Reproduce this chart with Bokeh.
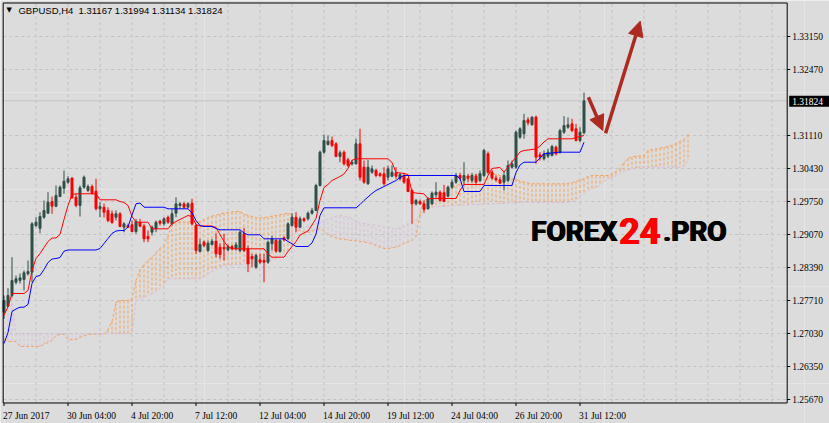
from bokeh.plotting import figure
from bokeh.models import Range1d, Label, Arrow, NormalHead, ColumnDataSource
from bokeh.embed import file_html
from bokeh.resources import INLINE

# ---------------- data (GBPUSD H4, bar index 0 = 27 Jun 2017) ----------------
symbol_text = "GBPUSD,H4\u00a0\u00a01.31167 1.31994 1.31134 1.31824"
label_bars = [0, 16, 32, 48, 64, 80, 96, 112, 128, 144]
date_labels = ["27 Jun 2017", "30 Jun 04:00", "4 Jul 20:00", "7 Jul 12:00", "12 Jul 04:00",
               "14 Jul 20:00", "19 Jul 12:00", "24 Jul 04:00", "26 Jul 20:00", "31 Jul 12:00"]
grid_bars = [8, 16, 24, 32, 40, 48, 56, 64, 72, 80, 88, 96, 104, 112, 120, 128, 136,
             144, 152, 160, 168, 176, 184, 192]
price_ticks = [1.25670, 1.26350, 1.27030, 1.27710, 1.28390, 1.29070, 1.29750, 1.30430,
               1.31110, 1.32470, 1.33150]
price_labels = ["1.25670", "1.26350", "1.27030", "1.27710", "1.28390", "1.29070", "1.29750",
                "1.30430", "1.31110", "1.32470", "1.33150"]
current_price = 1.31824
current_label = "1.31824"

opens = [1.27469, 1.27593, 1.27813, 1.28087, 1.28122, 1.28143, 1.28260, 1.28293, 1.29255, 1.29199,
         1.29426, 1.29509, 1.29750, 1.29653, 1.29853, 1.30024, 1.30148, 1.30231, 1.29839, 1.29668,
         1.30045, 1.29977, 1.30059, 1.29963, 1.29600, 1.29632, 1.29565, 1.29496, 1.29426, 1.29496,
         1.29220, 1.29255, 1.29269, 1.29131, 1.29323, 1.29241, 1.29028, 1.29117, 1.29186, 1.29344,
         1.29290, 1.29426, 1.29290, 1.29509, 1.29668, 1.29702, 1.29632, 1.29715, 1.29255, 1.28719,
         1.28912, 1.28740, 1.28864, 1.28932, 1.28808, 1.28808, 1.28754, 1.28822, 1.28774, 1.28740,
         1.29083, 1.28775, 1.28616, 1.28396, 1.28548, 1.28534, 1.28499, 1.28878, 1.28946, 1.28719,
         1.29001, 1.28981, 1.29255, 1.29426, 1.29220, 1.29393, 1.29393, 1.29509, 1.29565, 1.30080,
         1.30766, 1.30925, 1.31007, 1.30938, 1.30677, 1.30766, 1.30609, 1.30525, 1.30525, 1.30938,
         1.30457, 1.30115, 1.30354, 1.30389, 1.30320, 1.30320, 1.30251, 1.30272, 1.30341, 1.30217,
         1.30286, 1.30217, 1.29977, 1.29702, 1.29750, 1.29702, 1.29599, 1.29702, 1.29888, 1.29942,
         1.29929, 1.29860, 1.30045, 1.30148, 1.30286, 1.30183, 1.30272, 1.30183, 1.30272, 1.30183,
         1.30286, 1.30733, 1.30354, 1.30231, 1.30196, 1.30148, 1.30183, 1.30457, 1.30457, 1.31075,
         1.31144, 1.31433, 1.31330, 1.31488, 1.30713, 1.30630, 1.30684, 1.30698, 1.30870, 1.30767,
         1.31178, 1.31281, 1.31350, 1.31248, 1.31007, 1.31167]
highs = [1.27813, 1.27964, 1.28602, 1.28225, 1.28266, 1.28328, 1.28534, 1.29323, 1.29426, 1.29530,
         1.29771, 1.29942, 1.29853, 1.30080, 1.30080, 1.30389, 1.30272, 1.30251, 1.29908, 1.30080,
         1.30286, 1.30101, 1.30101, 1.30218, 1.29736, 1.29709, 1.29632, 1.29565, 1.29565, 1.29530,
         1.29323, 1.29296, 1.29358, 1.29393, 1.29393, 1.29290, 1.29152, 1.29255, 1.29358, 1.29372,
         1.29426, 1.29461, 1.29599, 1.29839, 1.29736, 1.29736, 1.29736, 1.29806, 1.29290, 1.28981,
         1.28946, 1.28946, 1.28981, 1.29097, 1.28890, 1.29083, 1.28864, 1.28857, 1.28911, 1.29152,
         1.29208, 1.28843, 1.28672, 1.28672, 1.28672, 1.28672, 1.28946, 1.29049, 1.28981, 1.28988,
         1.29029, 1.29323, 1.29509, 1.29530, 1.29441, 1.29426, 1.29544, 1.29620, 1.30115, 1.30801,
         1.31131, 1.31110, 1.31089, 1.30972, 1.30801, 1.30801, 1.30650, 1.30609, 1.31042, 1.31248,
         1.30595, 1.30609, 1.30492, 1.30423, 1.30354, 1.30457, 1.30492, 1.30492, 1.30457, 1.30341,
         1.30341, 1.30230, 1.30012, 1.29806, 1.29792, 1.29771, 1.29839, 1.29956, 1.30148, 1.29977,
         1.30094, 1.30080, 1.30204, 1.30341, 1.30341, 1.30560, 1.30320, 1.30341, 1.30320, 1.30389,
         1.30836, 1.30780, 1.30409, 1.30286, 1.30251, 1.30354, 1.30595, 1.30595, 1.31213, 1.31281,
         1.31557, 1.31488, 1.31508, 1.31522, 1.30767, 1.30801, 1.30836, 1.30918, 1.30904, 1.31248,
         1.31508, 1.31481, 1.31454, 1.31350, 1.31281, 1.31994]
lows = [1.27333, 1.27572, 1.27772, 1.28040, 1.28060, 1.27916, 1.28225, 1.28087, 1.29220, 1.29096,
        1.29393, 1.29496, 1.29496, 1.29632, 1.29839, 1.29908, 1.30114, 1.29806, 1.29632, 1.29441,
        1.30011, 1.29942, 1.29894, 1.29565, 1.29426, 1.29420, 1.29323, 1.29290, 1.29358, 1.29220,
        1.29117, 1.29214, 1.29117, 1.29083, 1.29220, 1.28912, 1.28912, 1.29049, 1.29117, 1.29255,
        1.29255, 1.29290, 1.29255, 1.29426, 1.29599, 1.29599, 1.29599, 1.29255, 1.28672, 1.28705,
        1.28808, 1.28705, 1.28843, 1.28602, 1.28568, 1.28534, 1.28726, 1.28740, 1.28740, 1.28705,
        1.28705, 1.28293, 1.28396, 1.28363, 1.28465, 1.28087, 1.28465, 1.28740, 1.28699, 1.28699,
        1.28932, 1.28961, 1.29235, 1.29117, 1.29200, 1.29323, 1.29358, 1.29481, 1.29550, 1.30059,
        1.30733, 1.30904, 1.30870, 1.30663, 1.30561, 1.30492, 1.30457, 1.30492, 1.30513, 1.30183,
        1.30115, 1.30094, 1.30320, 1.30251, 1.30251, 1.30080, 1.30183, 1.30251, 1.30217, 1.30183,
        1.30115, 1.29942, 1.29290, 1.29668, 1.29682, 1.29517, 1.29586, 1.29682, 1.29839, 1.29750,
        1.29736, 1.29839, 1.30011, 1.30115, 1.30183, 1.30080, 1.30148, 1.30135, 1.30115, 1.30148,
        1.30251, 1.30320, 1.30204, 1.30162, 1.30108, 1.29977, 1.30148, 1.30423, 1.30423, 1.31042,
        1.31042, 1.31316, 1.31316, 1.30527, 1.30595, 1.30595, 1.30642, 1.30677, 1.30698, 1.30733,
        1.31144, 1.31248, 1.31178, 1.30986, 1.30973, 1.31134]
closes = [1.27710, 1.27813, 1.28122, 1.28157, 1.28177, 1.28281, 1.28307, 1.29290, 1.29323, 1.29440,
          1.29565, 1.29736, 1.29653, 1.29874, 1.30045, 1.30169, 1.30217, 1.29826, 1.29668, 1.30032,
          1.30251, 1.30059, 1.29921, 1.29600, 1.29647, 1.29530, 1.29358, 1.29317, 1.29496, 1.29235,
          1.29290, 1.29220, 1.29131, 1.29338, 1.29241, 1.28981, 1.28981, 1.29220, 1.29323, 1.29303,
          1.29393, 1.29323, 1.29496, 1.29702, 1.29702, 1.29632, 1.29702, 1.29290, 1.28740, 1.28864,
          1.28843, 1.28892, 1.28932, 1.28672, 1.28658, 1.28774, 1.28822, 1.28774, 1.28857, 1.29117,
          1.28740, 1.28465, 1.28568, 1.28637, 1.28499, 1.28499, 1.28911, 1.28981, 1.28726, 1.28946,
          1.28961, 1.29290, 1.29426, 1.29220, 1.29393, 1.29358, 1.29509, 1.29565, 1.30080, 1.30766,
          1.31007, 1.30993, 1.30904, 1.30677, 1.30754, 1.30525, 1.30492, 1.30560, 1.30938, 1.30251,
          1.30148, 1.30457, 1.30423, 1.30286, 1.30286, 1.30115, 1.30423, 1.30354, 1.30272, 1.30306,
          1.30148, 1.29956, 1.29702, 1.29771, 1.29702, 1.29586, 1.29806, 1.29921, 1.29942, 1.29771,
          1.29750, 1.30045, 1.30148, 1.30286, 1.30231, 1.30286, 1.30231, 1.30286, 1.30148, 1.30320,
          1.30801, 1.30354, 1.30231, 1.30196, 1.30128, 1.30286, 1.30492, 1.30525, 1.31178, 1.31248,
          1.31419, 1.31371, 1.31488, 1.30664, 1.30664, 1.30733, 1.30767, 1.30883, 1.30733, 1.31213,
          1.31316, 1.31330, 1.31213, 1.31007, 1.31178, 1.31824]

tenkan = [1.27401, 1.27586, 1.27854, 1.27854, 1.27854, 1.27854, 1.27916, 1.28328, 1.28575, 1.28678,
          1.28802, 1.28925, 1.28998, 1.28998, 1.29070, 1.29379, 1.29668, 1.29895, 1.29909, 1.29909,
          1.29909, 1.29909, 1.29909, 1.29909, 1.29785, 1.29785, 1.29785, 1.29785, 1.29785, 1.29750,
          1.29730, 1.29668, 1.29441, 1.29323, 1.29323, 1.29323, 1.29323, 1.29187, 1.29187, 1.29187,
          1.29187, 1.29187, 1.29296, 1.29338, 1.29379, 1.29420, 1.29462, 1.29441, 1.29276, 1.29245,
          1.29245, 1.29245, 1.29245, 1.29214, 1.29070, 1.28925, 1.28822, 1.28775, 1.28775, 1.28775,
          1.28775, 1.28775, 1.28775, 1.28775, 1.28775, 1.28775, 1.28668, 1.28602, 1.28602, 1.28602,
          1.28602, 1.28719, 1.28822, 1.28925, 1.29059, 1.29101, 1.29142, 1.29266, 1.29400, 1.29771,
          1.30039, 1.30101, 1.30183, 1.30224, 1.30266, 1.30317, 1.30431, 1.30599, 1.30630, 1.30630,
          1.30630, 1.30630, 1.30630, 1.30630, 1.30630, 1.30630, 1.30630, 1.30554, 1.30348, 1.30338,
          1.30327, 1.30307, 1.29936, 1.29925, 1.29915, 1.29909, 1.29806, 1.29812, 1.29812, 1.29812,
          1.29812, 1.29812, 1.29812, 1.29812, 1.29977, 1.30101, 1.30101, 1.30101, 1.30101, 1.30101,
          1.30101, 1.30286, 1.30431, 1.30441, 1.30451, 1.30354, 1.30461, 1.30564, 1.30663, 1.30770,
          1.30801, 1.30811, 1.30822, 1.30832, 1.30894, 1.30976, 1.31042, 1.31042, 1.31042, 1.31042,
          1.31042, 1.31042, 1.31042, 1.31069, 1.31089, 1.31110]
kijun = [1.26824, 1.27051, 1.27483, 1.27535, 1.27572, 1.27572, 1.27628, 1.28060, 1.28204, 1.28225,
         1.28349, 1.28493, 1.28565, 1.28575, 1.28596, 1.28726, 1.28751, 1.28751, 1.28751, 1.28751,
         1.28751, 1.28751, 1.28751, 1.28751, 1.28781, 1.28884, 1.28988, 1.29091, 1.29142, 1.29152,
         1.29152, 1.29224, 1.29472, 1.29702, 1.29719, 1.29632, 1.29632, 1.29632, 1.29632, 1.29632,
         1.29632, 1.29599, 1.29599, 1.29599, 1.29599, 1.29599, 1.29599, 1.29513, 1.29358, 1.29255,
         1.29235, 1.29235, 1.29235, 1.29194, 1.29167, 1.29167, 1.29167, 1.29167, 1.29167, 1.29167,
         1.29101, 1.29064, 1.29064, 1.29064, 1.29064, 1.28981, 1.28981, 1.28981, 1.28981, 1.28981,
         1.28981, 1.28926, 1.28878, 1.28823, 1.28823, 1.28823, 1.28823, 1.28895, 1.29080, 1.29462,
         1.29620, 1.29620, 1.29620, 1.29620, 1.29620, 1.29620, 1.29620, 1.29620, 1.29620, 1.29688,
         1.29771, 1.29843, 1.29915, 1.29977, 1.30018, 1.30059, 1.30101, 1.30142, 1.30183, 1.30245,
         1.30286, 1.30286, 1.30286, 1.30286, 1.30286, 1.30286, 1.30286, 1.30286, 1.30286, 1.30286,
         1.30286, 1.30286, 1.30286, 1.30286, 1.30224, 1.29956, 1.29956, 1.29956, 1.29956, 1.29956,
         1.30080, 1.30080, 1.30080, 1.30080, 1.30080, 1.30080, 1.30080, 1.30080, 1.30348, 1.30502,
         1.30560, 1.30560, 1.30560, 1.30560, 1.30646, 1.30733, 1.30739, 1.30749, 1.30760, 1.30766,
         1.30766, 1.30766, 1.30766, 1.30766, 1.30766, 1.30972]
span_a = [1.26907, 1.26865, 1.26865, 1.26865, 1.26762, 1.26762, 1.26762, 1.26762, 1.26762, 1.26762,
          1.26813, 1.26844, 1.26886, 1.26989, 1.27009, 1.27009, 1.26906, 1.26900, 1.26906, 1.26948,
          1.26979, 1.27009, 1.27020, 1.27020, 1.27020, 1.27024, 1.27112, 1.27277, 1.27675, 1.27710,
          1.27710, 1.27710, 1.27745, 1.28122, 1.28349, 1.28452, 1.28534, 1.28596, 1.28699, 1.28781,
          1.28843, 1.29029, 1.29286, 1.29307, 1.29328, 1.29328, 1.29328, 1.29328, 1.29328, 1.29338,
          1.29379, 1.29420, 1.29451, 1.29461, 1.29492, 1.29513, 1.29523, 1.29534, 1.29544, 1.29544,
          1.29492, 1.29461, 1.29441, 1.29420, 1.29410, 1.29420, 1.29431, 1.29451, 1.29461, 1.29482,
          1.29492, 1.29513, 1.29482, 1.29194, 1.29152, 1.29121, 1.29111, 1.29132, 1.29173, 1.29183,
          1.29142, 1.29060, 1.29029, 1.28998, 1.28977, 1.28967, 1.28957, 1.28946, 1.28936, 1.28926,
          1.28915, 1.28905, 1.28874, 1.28843, 1.28812, 1.28781, 1.28781, 1.28792, 1.28808, 1.28843,
          1.28884, 1.28915, 1.28946, 1.29029, 1.29503, 1.29781, 1.29791, 1.29812, 1.29832, 1.29863,
          1.29915, 1.29977, 1.30028, 1.30069, 1.30121, 1.30183, 1.30245, 1.30286, 1.30307, 1.30327,
          1.30337, 1.30348, 1.30327, 1.30307, 1.30286, 1.30266, 1.30245, 1.30224, 1.30204, 1.30173,
          1.30148, 1.30132, 1.30115, 1.30115, 1.30115, 1.30115, 1.30115, 1.30115, 1.30115, 1.30115,
          1.30115, 1.30121, 1.30142, 1.30163, 1.30193, 1.30218, 1.30265, 1.30286, 1.30286, 1.30286,
          1.30286, 1.30286, 1.30307, 1.30368, 1.30424, 1.30554, 1.30636, 1.30667, 1.30688, 1.30688,
          1.30688, 1.30801, 1.30822, 1.30832, 1.30853, 1.30863, 1.30883, 1.30904, 1.30945, 1.30986,
          1.31028, 1.31131]
span_b = [1.27689, 1.27689, 1.27689, 1.27024, 1.27024, 1.27024, 1.27024, 1.27024, 1.27024, 1.27024,
          1.27024, 1.27024, 1.27024, 1.27024, 1.27024, 1.27024, 1.27024, 1.27024, 1.27024, 1.27024,
          1.27024, 1.27024, 1.27024, 1.27024, 1.27024, 1.27024, 1.27024, 1.27024, 1.27024, 1.27024,
          1.27024, 1.27024, 1.27024, 1.27710, 1.27741, 1.27778, 1.27813, 1.27854, 1.27895, 1.27957,
          1.28019, 1.28157, 1.28157, 1.28157, 1.28157, 1.28157, 1.28157, 1.28157, 1.28157, 1.28157,
          1.28194, 1.28256, 1.28308, 1.28339, 1.28411, 1.28431, 1.28442, 1.28442, 1.28452, 1.28452,
          1.28462, 1.28466, 1.28483, 1.28493, 1.28514, 1.28524, 1.28534, 1.28534, 1.28575, 1.28637,
          1.28689, 1.28730, 1.28833, 1.29152, 1.29183, 1.29214, 1.29245, 1.29276, 1.29290, 1.29317,
          1.29358, 1.29389, 1.29420, 1.29451, 1.29461, 1.29451, 1.29431, 1.29400, 1.29338, 1.29307,
          1.29296, 1.29286, 1.29276, 1.29255, 1.29245, 1.29220, 1.29208, 1.29194, 1.29187, 1.29214,
          1.29255, 1.29296, 1.29338, 1.29369, 1.29393, 1.29626, 1.29626, 1.29637, 1.29637, 1.29647,
          1.29647, 1.29657, 1.29657, 1.29668, 1.29668, 1.29678, 1.29678, 1.29688, 1.29688, 1.29688,
          1.29699, 1.29699, 1.29699, 1.29709, 1.29709, 1.29709, 1.29719, 1.29719, 1.29730, 1.29730,
          1.29730, 1.29730, 1.29730, 1.29730, 1.29730, 1.29730, 1.29730, 1.29730, 1.29730, 1.29730,
          1.29730, 1.29730, 1.29740, 1.29791, 1.29874, 1.29936, 1.29977, 1.30008, 1.30039, 1.30080,
          1.30162, 1.30214, 1.30245, 1.30286, 1.30327, 1.30368, 1.30399, 1.30420, 1.30441, 1.30457,
          1.30457, 1.30457, 1.30457, 1.30457, 1.30457, 1.30457, 1.30457, 1.30457, 1.30457, 1.30457,
          1.30471, 1.30595]

# annotation arrows (bar index, price): start -> end
arrow_down = (146.1, 1.31899, 149.7, 1.31213)
arrow_up = (150.4, 1.31157, 159.05, 1.33465)

# ---------------- geometry & styling ----------------
W, H = 829, 423
BARS_PER_PX = 0.25            # 4 px per H4 bar
PRICE_PER_PX = 1 / 4852.9     # price scale
X0 = -0.875                   # canvas left edge in bar units
Y0 = 1.251754                 # canvas bottom edge in price units
XL, XR = -0.2, 195.8          # chart box (bars)
YB, YT = 1.255979, 1.338404   # chart box (price)

BG = "#DCDCDC"
GRID = "#C3C3C3"
BULL = "#2F5148"
BEAR = "#FF0000"
ORANGE = "#F4A460"
THISTLE = "#D8BFD8"
ARROW = "#AC2A20"
FONT = "Liberation Sans"
FS = "9.5px"

p = figure(width=W, height=H, output_backend="svg", toolbar_location=None,
           x_range=Range1d(X0, X0 + W * BARS_PER_PX),
           y_range=Range1d(Y0, Y0 + H * PRICE_PER_PX),
           x_axis_location=None, y_axis_location=None, min_border=0,
           background_fill_color=BG, border_fill_color=BG, outline_line_color=None)

# ---- grid (dashed) ----
p.segment(x0=grid_bars, y0=[YB] * len(grid_bars), x1=grid_bars, y1=[YT] * len(grid_bars),
          line_color=GRID, line_dash="3 3", line_width=1)
p.segment(x0=[XL] * len(price_ticks), y0=price_ticks, x1=[XR] * len(price_ticks), y1=price_ticks,
          line_color=GRID, line_dash="3 3", line_width=1)

# ---- bid line ----
p.segment(x0=[XL], y0=[current_price], x1=[XR], y1=[current_price], line_color="#C4C4C4",
          line_width=1)

# ---- Ichimoku cloud ----
cloud_bars = list(range(len(span_a)))
seg_colors = [ORANGE if a >= b else THISTLE for a, b in zip(span_a, span_b)]
p.segment(x0=cloud_bars, y0=span_a, x1=cloud_bars, y1=span_b, line_color=seg_colors,
          line_dash="3 2", line_width=1)
p.line(cloud_bars, span_a, line_color=ORANGE, line_dash="3 2", line_width=1)
p.line(cloud_bars, span_b, line_color=THISTLE, line_dash="3 2", line_width=1)

# ---- candles ----
bars = list(range(len(opens)))
up = [c >= o for o, c in zip(opens, closes)]
src = ColumnDataSource(dict(
    x=bars, high=highs, low=lows,
    top=[max(o, c) for o, c in zip(opens, closes)],
    bottom=[min(o, c) for o, c in zip(opens, closes)],
    color=[BULL if u else BEAR for u in up]))
p.segment(x0="x", y0="high", x1="x", y1="low", line_color="color", line_width=1, source=src)
p.vbar(x="x", width=0.5, top="top", bottom="bottom", fill_color="color",
       line_color="color", line_width=1, source=src)

# ---- tenkan / kijun ----
p.line(bars, tenkan, line_color="#FF0000", line_width=1)
p.line(bars, kijun, line_color="#0000FF", line_width=1)

# ---- chart border ----
p.segment(x0=[XL, XL, XR, XL], y0=[YB, YT, YB, YB], x1=[XL, XR, XR, XR], y1=[YT, YT, YT, YB],
          line_color="black", line_width=1)

# ---- price scale (right) ----
p.segment(x0=[XR] * len(price_ticks), y0=price_ticks,
          x1=[XR + 3 * BARS_PER_PX] * len(price_ticks), y1=price_ticks,
          line_color="black", line_width=1)
p.text(x=[XR] * len(price_ticks), y=price_ticks, text=price_labels, x_offset=5,
       text_font=FONT, text_font_size=FS, text_color="black",
       text_align="left", text_baseline="middle")
p.quad(left=[XR + 2 * BARS_PER_PX], right=[X0 + W * BARS_PER_PX],
       top=[current_price + 5 * PRICE_PER_PX], bottom=[current_price - 6 * PRICE_PER_PX],
       fill_color="black", line_color=None)
p.text(x=[XR], y=[current_price], text=[current_label], x_offset=5, y_offset=0.5,
       text_font=FONT, text_font_size=FS, text_color="white",
       text_align="left", text_baseline="middle")

# ---- time scale (bottom) ----
p.segment(x0=label_bars, y0=[YB] * len(label_bars), x1=label_bars,
          y1=[YB - 3 * PRICE_PER_PX] * len(label_bars), line_color="black", line_width=1)
p.text(x=label_bars, y=[YB] * len(label_bars), text=date_labels, x_offset=-1, y_offset=13,
       text_font=FONT, text_font_size=FS, text_color="black",
       text_align="left", text_baseline="alphabetic")

# ---- arrows ----
for (x0, y0, x1, y1) in (arrow_down, arrow_up):
    p.add_layout(Arrow(end=NormalHead(size=15, fill_color=ARROW, line_color=ARROW),
                       x_start=x0, y_start=y0, x_end=x1, y_end=y1,
                       line_color=ARROW, line_width=3.5))

# ---- watermark ----
wm_y = 1.29132
for dx in (0, 0.7, 1.4):
    p.add_layout(Label(x=131.6, y=wm_y, x_offset=dx, text="FOREX", text_font="Roboto",
                       text_font_style="bold", text_font_size="28px", text_color="black",
                       text_baseline="alphabetic"))
    p.add_layout(Label(x=153.6, y=wm_y, x_offset=dx, text="24", text_font="Roboto",
                       text_font_style="bold", text_font_size="36px", text_color="#FF0000",
                       text_baseline="alphabetic"))
    p.add_layout(Label(x=164.6, y=wm_y, x_offset=dx, text=".PRO", text_font="Roboto",
                       text_font_style="bold", text_font_size="28px", text_color="black",
                       text_baseline="alphabetic"))

# ---- symbol line (top-left) ----
p.add_layout(Label(x=0.6, y=1.33686, text="\u25BC", text_font="DejaVu Sans",
                   text_font_size="7px", text_color="black", text_baseline="middle"))
p.add_layout(Label(x=3.6, y=1.33686, text=symbol_text, text_font=FONT,
                   text_font_size=FS, text_color="black", text_baseline="middle"))

open("out.html", "w").write(file_html(p, INLINE))
